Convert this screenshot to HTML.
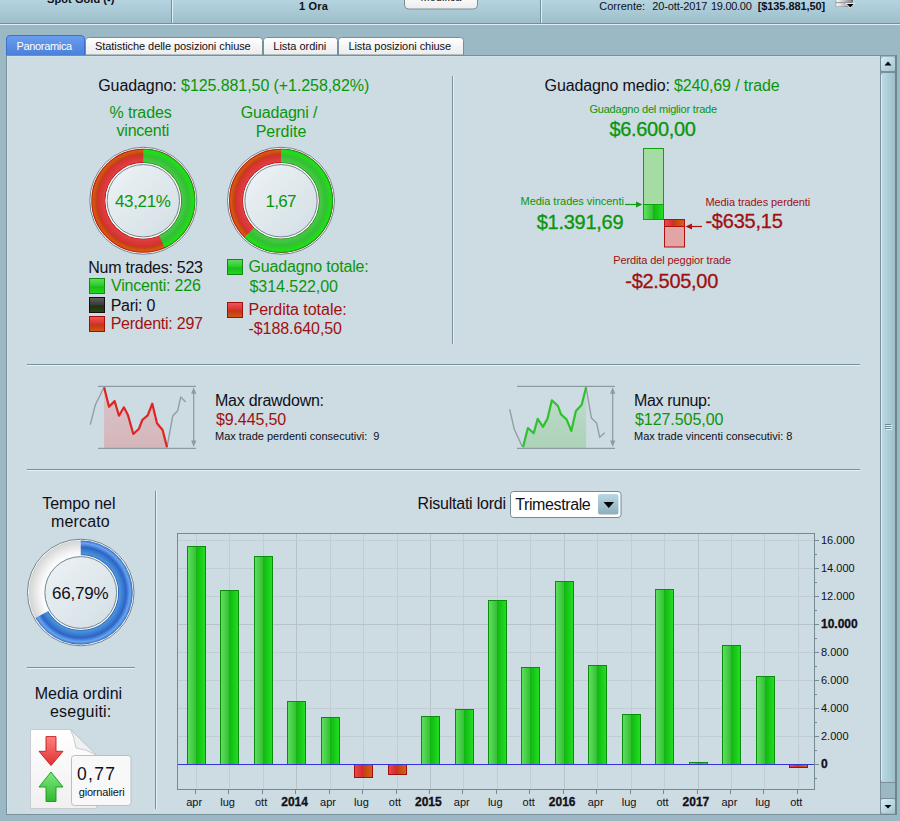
<!DOCTYPE html>
<html><head><meta charset="utf-8"><style>
html,body{margin:0;padding:0;width:900px;height:821px;overflow:hidden;background:#9bb9c5;}
body{position:relative;font-family:"Liberation Sans",sans-serif;}
svg{position:absolute;left:0;top:0;}
.t{position:absolute;white-space:pre;line-height:1;}
.b{-webkit-text-stroke:0.3px currentColor;}
</style></head><body>
<svg width="900" height="821" viewBox="0 0 900 821">
<defs><linearGradient id="gTop" x1="0" y1="0" x2="0" y2="1"><stop offset="0" stop-color="#b4d4e0"/><stop offset="1" stop-color="#9fbecb"/></linearGradient><linearGradient id="gTab" x1="0" y1="0" x2="0" y2="1"><stop offset="0" stop-color="#6a9ef0"/><stop offset="1" stop-color="#4a7fd8"/></linearGradient><linearGradient id="gTabI" x1="0" y1="0" x2="0" y2="1"><stop offset="0" stop-color="#ffffff"/><stop offset="1" stop-color="#ebebeb"/></linearGradient><linearGradient id="gBtn" x1="0" y1="0" x2="0" y2="1"><stop offset="0" stop-color="#ffffff"/><stop offset="1" stop-color="#ececec"/></linearGradient><linearGradient id="gScr" x1="0" y1="0" x2="1" y2="0"><stop offset="0" stop-color="#bcdbe7"/><stop offset="1" stop-color="#9fbfcb"/></linearGradient><linearGradient id="gScrB" x1="0" y1="0" x2="1" y2="1"><stop offset="0" stop-color="#d6eef8"/><stop offset="1" stop-color="#a4c4d0"/></linearGradient><linearGradient id="gDD" x1="0" y1="0" x2="0" y2="1"><stop offset="0" stop-color="#b8d8e6"/><stop offset="1" stop-color="#8eaebc"/></linearGradient><linearGradient id="gSqG" x1="0" y1="0" x2="0" y2="1"><stop offset="0" stop-color="#5ee05e"/><stop offset="0.5" stop-color="#2cc82c"/><stop offset="0.55" stop-color="#14c014"/><stop offset="1" stop-color="#22d822"/></linearGradient><linearGradient id="gSqK" x1="0" y1="0" x2="0" y2="1"><stop offset="0" stop-color="#606060"/><stop offset="0.5" stop-color="#383838"/><stop offset="0.55" stop-color="#203010"/><stop offset="1" stop-color="#284818"/></linearGradient><linearGradient id="gSqR" x1="0" y1="0" x2="0" y2="1"><stop offset="0" stop-color="#f05858"/><stop offset="0.5" stop-color="#d83030"/><stop offset="0.55" stop-color="#c03810"/><stop offset="1" stop-color="#d05818"/></linearGradient><linearGradient id="gBar" x1="0" y1="0" x2="1" y2="0"><stop offset="0" stop-color="#5ee25e"/><stop offset="0.45" stop-color="#38c038"/><stop offset="0.5" stop-color="#12b812"/><stop offset="1" stop-color="#22e022"/></linearGradient><linearGradient id="gBarR" x1="0" y1="0" x2="1" y2="0"><stop offset="0" stop-color="#f04848"/><stop offset="0.45" stop-color="#d02c2c"/><stop offset="0.5" stop-color="#c04010"/><stop offset="1" stop-color="#d86018"/></linearGradient><linearGradient id="gInner" x1="0" y1="0" x2="1" y2="1"><stop offset="0" stop-color="#eef3f6"/><stop offset="1" stop-color="#d2dee4"/></linearGradient><linearGradient id="gPink" x1="0" y1="0" x2="0" y2="1"><stop offset="0" stop-color="#d8c4c8"/><stop offset="1" stop-color="#d4b6ba"/></linearGradient><linearGradient id="gMint" x1="0" y1="0" x2="0" y2="1"><stop offset="0" stop-color="#c0dccc"/><stop offset="1" stop-color="#acd2b8"/></linearGradient><linearGradient id="gPage" x1="0" y1="0" x2="0" y2="1"><stop offset="0" stop-color="#ffffff"/><stop offset="1" stop-color="#f0f0f0"/></linearGradient><linearGradient id="gArrR" x1="0" y1="0" x2="0" y2="1"><stop offset="0" stop-color="#ff8080"/><stop offset="1" stop-color="#e03030"/></linearGradient><linearGradient id="gArrG" x1="0" y1="0" x2="0" y2="1"><stop offset="0" stop-color="#80e880"/><stop offset="1" stop-color="#30b830"/></linearGradient></defs>
<rect x="0" y="0" width="900" height="23" fill="url(#gTop)"/>
<rect x="0" y="23" width="900" height="1" fill="#76909a"/>
<rect x="0" y="24" width="900" height="1" fill="#dcf0f9"/>
<rect x="171" y="0" width="1" height="23" fill="#76909a"/><rect x="172" y="0" width="1" height="23" fill="#dcf0f8"/>
<rect x="540" y="0" width="1" height="23" fill="#76909a"/><rect x="541" y="0" width="1" height="23" fill="#dcf0f8"/>
<rect x="404.5" y="-5.5" width="73" height="14.5" rx="4" fill="url(#gBtn)" stroke="#7d8f96"/>
<linearGradient id="gMet" x1="0" y1="0" x2="1" y2="0"><stop offset="0" stop-color="#a0a0a0"/><stop offset="0.12" stop-color="#f6f6f6"/><stop offset="0.5" stop-color="#c4c4c4"/><stop offset="0.88" stop-color="#8a8a8a"/><stop offset="1" stop-color="#666"/></linearGradient>
<rect x="835" y="-3" width="18" height="5.6" rx="1" fill="url(#gMet)"/>
<rect x="835.5" y="2.4" width="17" height="0.8" fill="#7a7a7a"/>
<rect x="835" y="3.2" width="18" height="3.6" rx="1" fill="url(#gMet)"/>
<rect x="836" y="6.4" width="16" height="0.6" fill="#6a6a6a" opacity="0.6"/>
<path d="M845.3 3.3 L855.3 3.3 L850.3 8.6 Z" fill="#fff"/>
<path d="M846.8 3.9 L853.8 3.9 L850.3 7.5 Z" fill="#000"/>
<path d="M6.5 56 L6.5 39 Q6.5 35.5 10 35.5 L81 35.5 Q84.5 35.5 84.5 39 L84.5 56 Z" fill="url(#gTab)" stroke="#3d6fcc" stroke-width="1"/>
<path d="M85.5 55 L85.5 40.5 Q85.5 37.5 88.5 37.5 L259.5 37.5 Q262.5 37.5 262.5 40.5 L262.5 55 Z" fill="url(#gTabI)" stroke="#75909a" stroke-width="1"/>
<path d="M263.5 55 L263.5 40.5 Q263.5 37.5 266.5 37.5 L334.5 37.5 Q337.5 37.5 337.5 40.5 L337.5 55 Z" fill="url(#gTabI)" stroke="#75909a" stroke-width="1"/>
<path d="M338.5 55 L338.5 40.5 Q338.5 37.5 341.5 37.5 L460.5 37.5 Q463.5 37.5 463.5 40.5 L463.5 55 Z" fill="url(#gTabI)" stroke="#75909a" stroke-width="1"/>
<rect x="6" y="55" width="891" height="760" fill="#77909a"/>
<rect x="7" y="56" width="889" height="758" fill="#d3e1e8"/>
<rect x="8" y="57" width="872" height="757" fill="#cddbe2"/>
<rect x="880" y="56" width="1" height="758" fill="#7a8f98"/>
<rect x="881" y="56" width="14" height="758" fill="#9bb9c5"/>
<rect x="895" y="55" width="2" height="760" fill="#6f868f"/>
<rect x="880" y="814" width="17" height="1" fill="#6f868f"/>
<rect x="881" y="57" width="14" height="14" rx="2.5" fill="url(#gScrB)"/>
<path d="M884.5 65.5 L891.5 65.5 L888 61.5 Z" fill="#000"/>
<rect x="881" y="71" width="14" height="2" fill="#7a8f98"/>
<rect x="881" y="73" width="14" height="709" rx="2.5" fill="url(#gScr)"/>
<rect x="881" y="75" width="1" height="705" fill="#d8eef8"/>
<rect x="881" y="782" width="14" height="1" fill="#7a8f98"/>
<rect x="881" y="798" width="14" height="1" fill="#7a8f98"/>
<rect x="881" y="799" width="14" height="14" rx="2.5" fill="url(#gScrB)"/>
<path d="M884.5 805 L891.5 805 L888 808.5 Z" fill="#000"/>
<rect x="885" y="424" width="6" height="1" fill="#6f868f"/><rect x="886" y="425" width="6" height="1" fill="#e0f2fa"/>
<rect x="885" y="426" width="6" height="1" fill="#6f868f"/><rect x="886" y="427" width="6" height="1" fill="#e0f2fa"/>
<rect x="885" y="428" width="6" height="1" fill="#6f868f"/><rect x="886" y="429" width="6" height="1" fill="#e0f2fa"/>
<rect x="452" y="76" width="1" height="268" fill="#77909a"/><rect x="453" y="76" width="1" height="268" fill="#e2f2f8"/>
<rect x="27" y="364" width="833" height="1" fill="#77909a"/><rect x="27" y="365" width="833" height="1" fill="#e2f2f8"/>
<rect x="27" y="469" width="833" height="1" fill="#77909a"/><rect x="27" y="470" width="833" height="1" fill="#e2f2f8"/>
<rect x="155" y="491" width="1" height="318" fill="#77909a"/><rect x="156" y="491" width="1" height="318" fill="#e2f2f8"/>
<rect x="27" y="667" width="108" height="1" fill="#77909a"/><rect x="27" y="668" width="108" height="1" fill="#e2f2f8"/>
<radialGradient id="rg1g" gradientUnits="userSpaceOnUse" cx="143.3" cy="200.75" r="52.0"><stop offset="0.727" stop-color="#089008"/><stop offset="0.750" stop-color="#48c848"/><stop offset="0.862" stop-color="#32c032"/><stop offset="0.971" stop-color="#20e018"/><stop offset="1" stop-color="#089008"/></radialGradient>
<radialGradient id="rg1r" gradientUnits="userSpaceOnUse" cx="143.3" cy="200.75" r="52.0"><stop offset="0.727" stop-color="#b00000"/><stop offset="0.750" stop-color="#e04040"/><stop offset="0.881" stop-color="#d43030"/><stop offset="0.892" stop-color="#c04010"/><stop offset="0.971" stop-color="#d85a14"/><stop offset="1" stop-color="#b00000"/></radialGradient>
<circle cx="143.3" cy="200.75" r="53.5" fill="#fbfdfe" stroke="#70848c" stroke-width="1"/>
<circle cx="143.3" cy="200.75" r="44.9" fill="none" stroke="url(#rg1r)" stroke-width="14.200000000000003"/>
<path d="M143.30 148.75 A52.0 52.0 0 0 1 164.82 248.09 L158.94 235.16 A37.8 37.8 0 0 0 143.30 162.95 Z" fill="url(#rg1g)"/>
<circle cx="143.3" cy="200.75" r="37.199999999999996" fill="none" stroke="#fbfdfe" stroke-width="1.2"/>
<circle cx="143.3" cy="200.75" r="36.2" fill="url(#gInner)" stroke="#70848c" stroke-width="1"/>
<radialGradient id="rg2g" gradientUnits="userSpaceOnUse" cx="281" cy="200.75" r="52.0"><stop offset="0.727" stop-color="#089008"/><stop offset="0.750" stop-color="#48c848"/><stop offset="0.862" stop-color="#32c032"/><stop offset="0.971" stop-color="#20e018"/><stop offset="1" stop-color="#089008"/></radialGradient>
<radialGradient id="rg2r" gradientUnits="userSpaceOnUse" cx="281" cy="200.75" r="52.0"><stop offset="0.727" stop-color="#b00000"/><stop offset="0.750" stop-color="#e04040"/><stop offset="0.881" stop-color="#d43030"/><stop offset="0.892" stop-color="#c04010"/><stop offset="0.971" stop-color="#d85a14"/><stop offset="1" stop-color="#b00000"/></radialGradient>
<circle cx="281" cy="200.75" r="53.5" fill="#fbfdfe" stroke="#70848c" stroke-width="1"/>
<circle cx="281" cy="200.75" r="44.9" fill="none" stroke="url(#rg2r)" stroke-width="14.200000000000003"/>
<path d="M281.00 148.75 A52.0 52.0 0 1 1 244.21 237.50 L254.26 227.46 A37.8 37.8 0 1 0 281.00 162.95 Z" fill="url(#rg2g)"/>
<circle cx="281" cy="200.75" r="37.199999999999996" fill="none" stroke="#fbfdfe" stroke-width="1.2"/>
<circle cx="281" cy="200.75" r="36.2" fill="url(#gInner)" stroke="#70848c" stroke-width="1"/>
<radialGradient id="rg3b" gradientUnits="userSpaceOnUse" cx="80.75" cy="592.5" r="51.9"><stop offset="0.719" stop-color="#1e4fc0"/><stop offset="0.744" stop-color="#4c94da"/><stop offset="0.815" stop-color="#3a7cd0"/><stop offset="0.873" stop-color="#2c64c6"/><stop offset="0.952" stop-color="#6aa6ee"/><stop offset="0.985" stop-color="#4080dc"/><stop offset="1" stop-color="#2a5ec0"/></radialGradient>
<radialGradient id="rg3w" gradientUnits="userSpaceOnUse" cx="80.75" cy="592.5" r="51.9"><stop offset="0.719" stop-color="#fcfcfc"/><stop offset="0.776" stop-color="#f6f6f6"/><stop offset="1" stop-color="#d4d4d4"/></radialGradient>
<circle cx="80.75" cy="592.5" r="53.3" fill="#fbfdfe" stroke="#70848c" stroke-width="1"/>
<circle cx="80.75" cy="592.5" r="44.599999999999994" fill="none" stroke="url(#rg3w)" stroke-width="14.600000000000001"/>
<path d="M80.75 540.60 A51.9 51.9 0 1 1 35.60 618.10 L48.30 610.90 A37.3 37.3 0 1 0 80.75 555.20 Z" fill="url(#rg3b)"/>
<circle cx="80.75" cy="592.5" r="36.699999999999996" fill="none" stroke="#fbfdfe" stroke-width="1.2"/>
<circle cx="80.75" cy="592.5" r="35.9" fill="url(#gInner)" stroke="#70848c" stroke-width="1"/>
<rect x="89.5" y="278.5" width="15" height="15" fill="url(#gSqG)" stroke="#108a10"/>
<rect x="89.5" y="297.5" width="15" height="15" fill="url(#gSqK)" stroke="#101010"/>
<rect x="89.5" y="316.5" width="15" height="15" fill="url(#gSqR)" stroke="#a01008"/>
<rect x="227.5" y="259.5" width="15" height="15" fill="url(#gSqG)" stroke="#108a10"/>
<rect x="227.5" y="302.5" width="15" height="15" fill="url(#gSqR)" stroke="#a01008"/>
<rect x="643.5" y="148.5" width="20" height="71" fill="#a4dca4" stroke="#10a010"/>
<rect x="644" y="205" width="19" height="14" fill="url(#gBar)"/>
<rect x="643.5" y="204.5" width="20" height="15" fill="none" stroke="#10a010"/>
<path d="M625 204.5 L638 204.5" stroke="#10a010" stroke-width="1.2"/><path d="M642.5 204.5 L636 201.5 L636 207.5 Z" fill="#10a010"/>
<rect x="664.5" y="219.5" width="20" height="27.5" fill="#e2a4a4" stroke="#b01010"/>
<rect x="665" y="220" width="19" height="6.5" fill="url(#gBarR)"/>
<path d="M664.5 226.5 L684.5 226.5" stroke="#b01010"/>
<path d="M690 226.5 L702 226.5" stroke="#b01010" stroke-width="1.2"/><path d="M685.5 226.5 L692 223.5 L692 229.5 Z" fill="#b01010"/>
<polygon points="104.1,448.4 104.1,387.3 109,406.7 114.6,401.1 119,415.7 123.9,407.3 127.9,414.9 133.3,434 139,428.7 142.3,420 147.7,415.3 152.3,403.7 157,423.3 162.6,430 167,447.3 167,448.4" fill="url(#gPink)"/>
<rect x="98" y="385.8" width="98" height="1.2" fill="#8c9aa2"/>
<rect x="98" y="447.79999999999995" width="98" height="1.2" fill="#8c9aa2"/>
<polyline points="90.3,424.7 95.4,404.7 103.7,388" fill="none" stroke="#909ea6" stroke-width="1.4" stroke-linejoin="round"/>
<polyline points="167,447.3 172.7,416 177.7,410.7 180.7,397 185.7,402" fill="none" stroke="#909ea6" stroke-width="1.4" stroke-linejoin="round"/>
<polyline points="104.1,387.3 109,406.7 114.6,401.1 119,415.7 123.9,407.3 127.9,414.9 133.3,434 139,428.7 142.3,420 147.7,415.3 152.3,403.7 157,423.3 162.6,430 167,447.3" fill="none" stroke="#e02424" stroke-width="2.2" stroke-linejoin="round"/>
<path d="M193.7 391.8 L193.7 442.4" stroke="#8c9aa2" stroke-width="1.2"/>
<path d="M193.7 387.3 L191.1 393.8 L196.29999999999998 393.8 Z" fill="#8c9aa2"/>
<path d="M193.7 446.9 L191.1 440.4 L196.29999999999998 440.4 Z" fill="#8c9aa2"/>
<polygon points="523,448.4 523,447.3 527.9,428 533.7,433.3 537.7,418.9 543,426.9 547.4,418.9 551.9,400.3 558,406 561,414.4 566.6,419.3 571.3,430.9 575.9,410.9 581.7,404.7 586.1,387.3 586.1,448.4" fill="url(#gMint)"/>
<rect x="517" y="385.8" width="98" height="1.2" fill="#8c9aa2"/>
<rect x="517" y="447.79999999999995" width="98" height="1.2" fill="#8c9aa2"/>
<polyline points="509.7,409.3 514.3,429.3 522.3,446.7" fill="none" stroke="#909ea6" stroke-width="1.4" stroke-linejoin="round"/>
<polyline points="586.1,387.3 591.4,418 596.7,423.3 599.7,437.3 604.7,432.7" fill="none" stroke="#909ea6" stroke-width="1.4" stroke-linejoin="round"/>
<polyline points="523,447.3 527.9,428 533.7,433.3 537.7,418.9 543,426.9 547.4,418.9 551.9,400.3 558,406 561,414.4 566.6,419.3 571.3,430.9 575.9,410.9 581.7,404.7 586.1,387.3" fill="none" stroke="#30c030" stroke-width="2.2" stroke-linejoin="round"/>
<path d="M612.7 391.8 L612.7 442.4" stroke="#8c9aa2" stroke-width="1.2"/>
<path d="M612.7 387.3 L610.1 393.8 L615.3000000000001 393.8 Z" fill="#8c9aa2"/>
<path d="M612.7 446.9 L610.1 440.4 L615.3000000000001 440.4 Z" fill="#8c9aa2"/>
<path d="M30.5 729.5 L70.5 729.5 L96.5 755 L96.5 808.5 L30.5 808.5 Z" fill="url(#gPage)" stroke="#c8ccd0" stroke-width="1"/>
<path d="M70.5 729.5 Q74 736 76 748 Q86 749 96.5 755 Z" fill="#eef0f2" stroke="#b8bec2" stroke-width="0.8"/>
<path d="M46 736.6 L56 736.6 L56 751.3 L63 751.3 L51 765.6 L39 751.3 L46 751.3 Z" fill="url(#gArrR)" stroke="#c41c1c" stroke-width="0.9"/>
<path d="M51 772 L63 787 L56 787 L56 801.5 L46 801.5 L46 787 L39 787 Z" fill="url(#gArrG)" stroke="#129a12" stroke-width="0.9"/>
<rect x="71.5" y="755.5" width="59.5" height="50" rx="3" fill="#f8f8f8" stroke="#b8c0c4"/>
<rect x="510.5" y="491.5" width="110.5" height="26" rx="3" fill="#fff" stroke="#728a94"/>
<rect x="598" y="494" width="20.5" height="20.5" rx="2" fill="url(#gDD)"/>
<path d="M603.5 502 L614 502 L608.75 508 Z" fill="#000"/>
<rect x="177.5" y="533.5" width="637" height="256" fill="none" stroke="#738a94"/>
<path d="M196.5 534 L196.5 789" stroke="#c2cdd3" stroke-width="1"/>
<path d="M195.5 790 L195.5 794" stroke="#738a94" stroke-width="1"/>
<path d="M229.5 534 L229.5 789" stroke="#c2cdd3" stroke-width="1"/>
<path d="M228.5 790 L228.5 794" stroke="#738a94" stroke-width="1"/>
<path d="M263.5 534 L263.5 789" stroke="#c2cdd3" stroke-width="1"/>
<path d="M262.5 790 L262.5 794" stroke="#738a94" stroke-width="1"/>
<path d="M296.5 534 L296.5 789" stroke="#b8c2c8" stroke-width="1"/>
<path d="M295.5 790 L295.5 794" stroke="#738a94" stroke-width="1"/>
<path d="M330.5 534 L330.5 789" stroke="#c2cdd3" stroke-width="1"/>
<path d="M329.5 790 L329.5 794" stroke="#738a94" stroke-width="1"/>
<path d="M363.5 534 L363.5 789" stroke="#c2cdd3" stroke-width="1"/>
<path d="M362.5 790 L362.5 794" stroke="#738a94" stroke-width="1"/>
<path d="M397.5 534 L397.5 789" stroke="#c2cdd3" stroke-width="1"/>
<path d="M396.5 790 L396.5 794" stroke="#738a94" stroke-width="1"/>
<path d="M430.5 534 L430.5 789" stroke="#b8c2c8" stroke-width="1"/>
<path d="M429.5 790 L429.5 794" stroke="#738a94" stroke-width="1"/>
<path d="M463.5 534 L463.5 789" stroke="#c2cdd3" stroke-width="1"/>
<path d="M462.5 790 L462.5 794" stroke="#738a94" stroke-width="1"/>
<path d="M497.5 534 L497.5 789" stroke="#c2cdd3" stroke-width="1"/>
<path d="M496.5 790 L496.5 794" stroke="#738a94" stroke-width="1"/>
<path d="M530.5 534 L530.5 789" stroke="#c2cdd3" stroke-width="1"/>
<path d="M529.5 790 L529.5 794" stroke="#738a94" stroke-width="1"/>
<path d="M564.5 534 L564.5 789" stroke="#b8c2c8" stroke-width="1"/>
<path d="M563.5 790 L563.5 794" stroke="#738a94" stroke-width="1"/>
<path d="M597.5 534 L597.5 789" stroke="#c2cdd3" stroke-width="1"/>
<path d="M596.5 790 L596.5 794" stroke="#738a94" stroke-width="1"/>
<path d="M631.5 534 L631.5 789" stroke="#c2cdd3" stroke-width="1"/>
<path d="M630.5 790 L630.5 794" stroke="#738a94" stroke-width="1"/>
<path d="M664.5 534 L664.5 789" stroke="#c2cdd3" stroke-width="1"/>
<path d="M663.5 790 L663.5 794" stroke="#738a94" stroke-width="1"/>
<path d="M698.5 534 L698.5 789" stroke="#b8c2c8" stroke-width="1"/>
<path d="M697.5 790 L697.5 794" stroke="#738a94" stroke-width="1"/>
<path d="M731.5 534 L731.5 789" stroke="#c2cdd3" stroke-width="1"/>
<path d="M730.5 790 L730.5 794" stroke="#738a94" stroke-width="1"/>
<path d="M764.5 534 L764.5 789" stroke="#c2cdd3" stroke-width="1"/>
<path d="M763.5 790 L763.5 794" stroke="#738a94" stroke-width="1"/>
<path d="M798.5 534 L798.5 789" stroke="#c2cdd3" stroke-width="1"/>
<path d="M797.5 790 L797.5 794" stroke="#738a94" stroke-width="1"/>
<path d="M178 736.5 L814 736.5" stroke="#c2cdd3" stroke-width="1"/>
<path d="M178 708.5 L814 708.5" stroke="#c2cdd3" stroke-width="1"/>
<path d="M178 680.5 L814 680.5" stroke="#c2cdd3" stroke-width="1"/>
<path d="M178 652.5 L814 652.5" stroke="#c2cdd3" stroke-width="1"/>
<path d="M178 624.5 L814 624.5" stroke="#b8c2c8" stroke-width="1"/>
<path d="M178 596.5 L814 596.5" stroke="#c2cdd3" stroke-width="1"/>
<path d="M178 568.5 L814 568.5" stroke="#c2cdd3" stroke-width="1"/>
<path d="M178 540.5 L814 540.5" stroke="#c2cdd3" stroke-width="1"/>
<path d="M815 778.5 L817 778.5" stroke="#738a94" stroke-width="1"/>
<path d="M815 764.5 L819 764.5" stroke="#738a94" stroke-width="1"/>
<path d="M815 750.5 L817 750.5" stroke="#738a94" stroke-width="1"/>
<path d="M815 736.5 L819 736.5" stroke="#738a94" stroke-width="1"/>
<path d="M815 722.5 L817 722.5" stroke="#738a94" stroke-width="1"/>
<path d="M815 708.5 L819 708.5" stroke="#738a94" stroke-width="1"/>
<path d="M815 694.5 L817 694.5" stroke="#738a94" stroke-width="1"/>
<path d="M815 680.5 L819 680.5" stroke="#738a94" stroke-width="1"/>
<path d="M815 666.5 L817 666.5" stroke="#738a94" stroke-width="1"/>
<path d="M815 652.5 L819 652.5" stroke="#738a94" stroke-width="1"/>
<path d="M815 638.5 L817 638.5" stroke="#738a94" stroke-width="1"/>
<path d="M815 624.5 L819 624.5" stroke="#738a94" stroke-width="1"/>
<path d="M815 610.5 L817 610.5" stroke="#738a94" stroke-width="1"/>
<path d="M815 596.5 L819 596.5" stroke="#738a94" stroke-width="1"/>
<path d="M815 582.5 L817 582.5" stroke="#738a94" stroke-width="1"/>
<path d="M815 568.5 L819 568.5" stroke="#738a94" stroke-width="1"/>
<path d="M815 554.5 L817 554.5" stroke="#738a94" stroke-width="1"/>
<path d="M815 540.5 L819 540.5" stroke="#738a94" stroke-width="1"/>
<rect x="187.50" y="546.50" width="18" height="218.00" fill="url(#gBar)" stroke="#0c8c0c"/>
<rect x="220.50" y="590.50" width="18" height="174.00" fill="url(#gBar)" stroke="#0c8c0c"/>
<rect x="254.50" y="556.50" width="18" height="208.00" fill="url(#gBar)" stroke="#0c8c0c"/>
<rect x="287.50" y="701.50" width="18" height="63.00" fill="url(#gBar)" stroke="#0c8c0c"/>
<rect x="321.50" y="717.50" width="18" height="47.00" fill="url(#gBar)" stroke="#0c8c0c"/>
<rect x="354.50" y="764.50" width="18" height="13.00" fill="url(#gBarR)" stroke="#a01010"/>
<rect x="388.50" y="764.50" width="18" height="10.00" fill="url(#gBarR)" stroke="#a01010"/>
<rect x="421.50" y="716.50" width="18" height="48.00" fill="url(#gBar)" stroke="#0c8c0c"/>
<rect x="455.50" y="709.50" width="18" height="55.00" fill="url(#gBar)" stroke="#0c8c0c"/>
<rect x="488.50" y="600.50" width="18" height="164.00" fill="url(#gBar)" stroke="#0c8c0c"/>
<rect x="521.50" y="667.50" width="18" height="97.00" fill="url(#gBar)" stroke="#0c8c0c"/>
<rect x="555.50" y="581.50" width="18" height="183.00" fill="url(#gBar)" stroke="#0c8c0c"/>
<rect x="588.50" y="665.50" width="18" height="99.00" fill="url(#gBar)" stroke="#0c8c0c"/>
<rect x="622.50" y="714.50" width="18" height="50.00" fill="url(#gBar)" stroke="#0c8c0c"/>
<rect x="655.50" y="589.50" width="18" height="175.00" fill="url(#gBar)" stroke="#0c8c0c"/>
<rect x="689.50" y="762.50" width="18" height="2.00" fill="url(#gBar)" stroke="#0c8c0c"/>
<rect x="722.50" y="645.50" width="18" height="119.00" fill="url(#gBar)" stroke="#0c8c0c"/>
<rect x="756.50" y="676.50" width="18" height="88.00" fill="url(#gBar)" stroke="#0c8c0c"/>
<rect x="789.50" y="764.50" width="18" height="3.00" fill="url(#gBarR)" stroke="#a01010"/>
<rect x="178" y="764" width="636" height="1" fill="#3434d8"/>
</svg>
<div class="t" style="left:98.20px;top:78.00px;font-size:16px;color:#101018;letter-spacing:-0.076px;">Guadagno: <span style="color:#0a960a">$125.881,50 (+1.258,82%)</span></div>
<div class="t" style="left:109.50px;top:105.00px;font-size:16px;color:#0a960a;letter-spacing:-0.143px;">% trades</div>
<div class="t" style="left:116.50px;top:123.00px;font-size:16px;color:#0a960a;letter-spacing:-0.214px;">vincenti</div>
<div class="t" style="left:240.70px;top:105.00px;font-size:16px;color:#0a960a;letter-spacing:-0.167px;">Guadagni /</div>
<div class="t" style="left:255.70px;top:124.00px;font-size:16px;color:#0a960a;letter-spacing:-0.017px;">Perdite</div>
<div class="t" style="left:115.00px;top:193.00px;font-size:17px;color:#0a960a;letter-spacing:-0.340px;">43,21%</div>
<div class="t" style="left:265.40px;top:193.00px;font-size:17px;color:#0a960a;letter-spacing:-0.667px;">1,67</div>
<div class="t" style="left:88.30px;top:260.00px;font-size:16px;color:#101018;letter-spacing:-0.257px;">Num trades: 523</div>
<div class="t" style="left:111.00px;top:278.00px;font-size:16px;color:#0a960a;letter-spacing:-0.200px;">Vincenti: 226</div>
<div class="t" style="left:110.70px;top:298.00px;font-size:16px;color:#101018;letter-spacing:-0.267px;">Pari: 0</div>
<div class="t" style="left:110.70px;top:316.00px;font-size:16px;color:#a01010;letter-spacing:-0.242px;">Perdenti: 297</div>
<div class="t" style="left:248.50px;top:259.00px;font-size:16px;color:#0a960a;letter-spacing:-0.167px;">Guadagno totale:</div>
<div class="t" style="left:249.50px;top:279.00px;font-size:16px;color:#0a960a;letter-spacing:-0.050px;">$314.522,00</div>
<div class="t" style="left:248.50px;top:302.00px;font-size:16px;color:#a01010;letter-spacing:-0.036px;">Perdita totale:</div>
<div class="t" style="left:248.50px;top:321.00px;font-size:16px;color:#a01010;letter-spacing:-0.073px;">-$188.640,50</div>
<div class="t" style="left:544.60px;top:78.00px;font-size:16px;color:#101018;letter-spacing:-0.140px;">Guadagno medio: <span style="color:#0a960a">$240,69 / trade</span></div>
<div class="t" style="left:589.40px;top:104.00px;font-size:11px;color:#0a960a;letter-spacing:-0.200px;">Guadagno del miglior trade</div>
<div class="t b" style="left:609.40px;top:119.00px;font-size:20px;color:#0a960a;letter-spacing:-0.300px;">$6.600,00</div>
<div class="t" style="left:520.50px;top:196.00px;font-size:11px;color:#0a960a;letter-spacing:-0.025px;">Media trades vincenti</div>
<div class="t b" style="left:536.70px;top:212.00px;font-size:20px;color:#0a960a;letter-spacing:-0.263px;">$1.391,69</div>
<div class="t" style="left:705.40px;top:197.00px;font-size:11px;color:#a01010;letter-spacing:-0.075px;">Media trades perdenti</div>
<div class="t b" style="left:705.40px;top:211.00px;font-size:20px;color:#a01010;letter-spacing:-0.214px;">-$635,15</div>
<div class="t" style="left:613.20px;top:255.00px;font-size:11px;color:#a01010;letter-spacing:-0.104px;">Perdita del peggior trade</div>
<div class="t b" style="left:625.30px;top:271.00px;font-size:20px;color:#a01010;letter-spacing:-0.289px;">-$2.505,00</div>
<div class="t" style="left:215.00px;top:393.00px;font-size:16px;color:#101018;letter-spacing:-0.250px;">Max drawdown:</div>
<div class="t" style="left:216.00px;top:412.00px;font-size:16px;color:#a01010;letter-spacing:-0.125px;">$9.445,50</div>
<div class="t" style="left:215.00px;top:431.00px;font-size:11px;color:#101018;">Max trade perdenti consecutivi:&nbsp; 9</div>
<div class="t" style="left:634.00px;top:393.00px;font-size:16px;color:#101018;letter-spacing:-0.333px;">Max runup:</div>
<div class="t" style="left:635.00px;top:412.00px;font-size:16px;color:#0a960a;letter-spacing:-0.060px;">$127.505,00</div>
<div class="t" style="left:634.00px;top:431.00px;font-size:11px;color:#101018;letter-spacing:-0.019px;">Max trade vincenti consecutivi: 8</div>
<div class="t" style="left:42.20px;top:496.00px;font-size:16px;color:#101018;letter-spacing:-0.062px;">Tempo nel</div>
<div class="t" style="left:51.00px;top:514.00px;font-size:16px;color:#101018;letter-spacing:0.150px;">mercato</div>
<div class="t" style="left:51.90px;top:585.00px;font-size:17px;color:#101018;letter-spacing:-0.200px;">66,79%</div>
<div class="t" style="left:34.70px;top:686.00px;font-size:16px;color:#101018;letter-spacing:0.027px;">Media ordini</div>
<div class="t" style="left:50.00px;top:704.00px;font-size:16px;color:#101018;letter-spacing:0.213px;">eseguiti:</div>
<div class="t" style="left:77.00px;top:766.00px;font-size:17.5px;color:#101018;letter-spacing:1.333px;">0,77</div>
<div class="t" style="left:78.70px;top:787.00px;font-size:11px;color:#101018;letter-spacing:-0.170px;">giornalieri</div>
<div class="t" style="left:417.60px;top:496.00px;font-size:16px;color:#101018;letter-spacing:-0.229px;">Risultati lordi</div>
<div class="t" style="left:515.20px;top:497.00px;font-size:16px;color:#101018;letter-spacing:-0.390px;">Trimestrale</div>
<div class="t" style="left:-105.79999999999998px;width:600px;text-align:center;top:797.00px;font-size:11px;color:#101018;">apr</div>
<div class="t" style="left:-72.35px;width:600px;text-align:center;top:797.00px;font-size:11px;color:#101018;">lug</div>
<div class="t" style="left:-38.89999999999998px;width:600px;text-align:center;top:797.00px;font-size:11px;color:#101018;">ott</div>
<div class="t b" style="left:-5.449999999999989px;width:600px;text-align:center;top:796.00px;font-size:12px;color:#101018;font-weight:700;">2014</div>
<div class="t" style="left:28.0px;width:600px;text-align:center;top:797.00px;font-size:11px;color:#101018;">apr</div>
<div class="t" style="left:61.44999999999999px;width:600px;text-align:center;top:797.00px;font-size:11px;color:#101018;">lug</div>
<div class="t" style="left:94.89999999999998px;width:600px;text-align:center;top:797.00px;font-size:11px;color:#101018;">ott</div>
<div class="t b" style="left:128.35000000000002px;width:600px;text-align:center;top:796.00px;font-size:12px;color:#101018;font-weight:700;">2015</div>
<div class="t" style="left:161.8px;width:600px;text-align:center;top:797.00px;font-size:11px;color:#101018;">apr</div>
<div class="t" style="left:195.25px;width:600px;text-align:center;top:797.00px;font-size:11px;color:#101018;">lug</div>
<div class="t" style="left:228.69999999999993px;width:600px;text-align:center;top:797.00px;font-size:11px;color:#101018;">ott</div>
<div class="t b" style="left:262.15px;width:600px;text-align:center;top:796.00px;font-size:12px;color:#101018;font-weight:700;">2016</div>
<div class="t" style="left:295.6px;width:600px;text-align:center;top:797.00px;font-size:11px;color:#101018;">apr</div>
<div class="t" style="left:329.05000000000007px;width:600px;text-align:center;top:797.00px;font-size:11px;color:#101018;">lug</div>
<div class="t" style="left:362.5000000000001px;width:600px;text-align:center;top:797.00px;font-size:11px;color:#101018;">ott</div>
<div class="t b" style="left:395.95000000000005px;width:600px;text-align:center;top:796.00px;font-size:12px;color:#101018;font-weight:700;">2017</div>
<div class="t" style="left:429.4px;width:600px;text-align:center;top:797.00px;font-size:11px;color:#101018;">apr</div>
<div class="t" style="left:462.85px;width:600px;text-align:center;top:797.00px;font-size:11px;color:#101018;">lug</div>
<div class="t" style="left:496.30000000000007px;width:600px;text-align:center;top:797.00px;font-size:11px;color:#101018;">ott</div>
<div class="t b" style="left:821px;top:758.00px;font-size:12px;color:#101018;font-weight:700;">0</div>
<div class="t" style="left:821px;top:731.00px;font-size:11px;color:#101018;">2.000</div>
<div class="t" style="left:821px;top:703.00px;font-size:11px;color:#101018;">4.000</div>
<div class="t" style="left:821px;top:675.00px;font-size:11px;color:#101018;">6.000</div>
<div class="t" style="left:821px;top:647.00px;font-size:11px;color:#101018;">8.000</div>
<div class="t b" style="left:821px;top:618.00px;font-size:12px;color:#101018;font-weight:700;">10.000</div>
<div class="t" style="left:821px;top:591.00px;font-size:11px;color:#101018;">12.000</div>
<div class="t" style="left:821px;top:563.00px;font-size:11px;color:#101018;">14.000</div>
<div class="t" style="left:821px;top:535.00px;font-size:11px;color:#101018;">16.000</div>
<div class="t" style="left:47.10px;top:-6.00px;font-size:11px;color:#101018;font-weight:700;letter-spacing:0.058px;">Spot Gold (-)</div>
<div class="t" style="left:299.00px;top:1.00px;font-size:11px;color:#101018;font-weight:700;letter-spacing:0.175px;">1 Ora</div>
<div class="t" style="left:141px;width:600px;text-align:center;top:-8.00px;font-size:11px;color:#101018;">Modifica</div>
<div class="t" style="left:599.30px;top:1.00px;font-size:11px;color:#101018;">Corrente:</div>
<div class="t" style="left:652.30px;top:1.00px;font-size:11px;color:#101018;letter-spacing:-0.130px;">20-ott-2017</div>
<div class="t" style="left:711.00px;top:1.00px;font-size:11px;color:#101018;letter-spacing:-0.286px;">19.00.00</div>
<div class="t" style="left:757.70px;top:1.00px;font-size:11px;color:#101018;font-weight:700;letter-spacing:-0.083px;">[$135.881,50]</div>
<div class="t" style="left:16.50px;top:41.00px;font-size:11px;color:#ffffff;letter-spacing:-0.333px;">Panoramica</div>
<div class="t" style="left:95.00px;top:41.00px;font-size:11px;color:#101018;letter-spacing:-0.061px;">Statistiche delle posizioni chiuse</div>
<div class="t" style="left:273.30px;top:41.00px;font-size:11px;color:#101018;letter-spacing:-0.018px;">Lista ordini</div>
<div class="t" style="left:348.40px;top:41.00px;font-size:11px;color:#101018;letter-spacing:-0.057px;">Lista posizioni chiuse</div>
</body></html>
